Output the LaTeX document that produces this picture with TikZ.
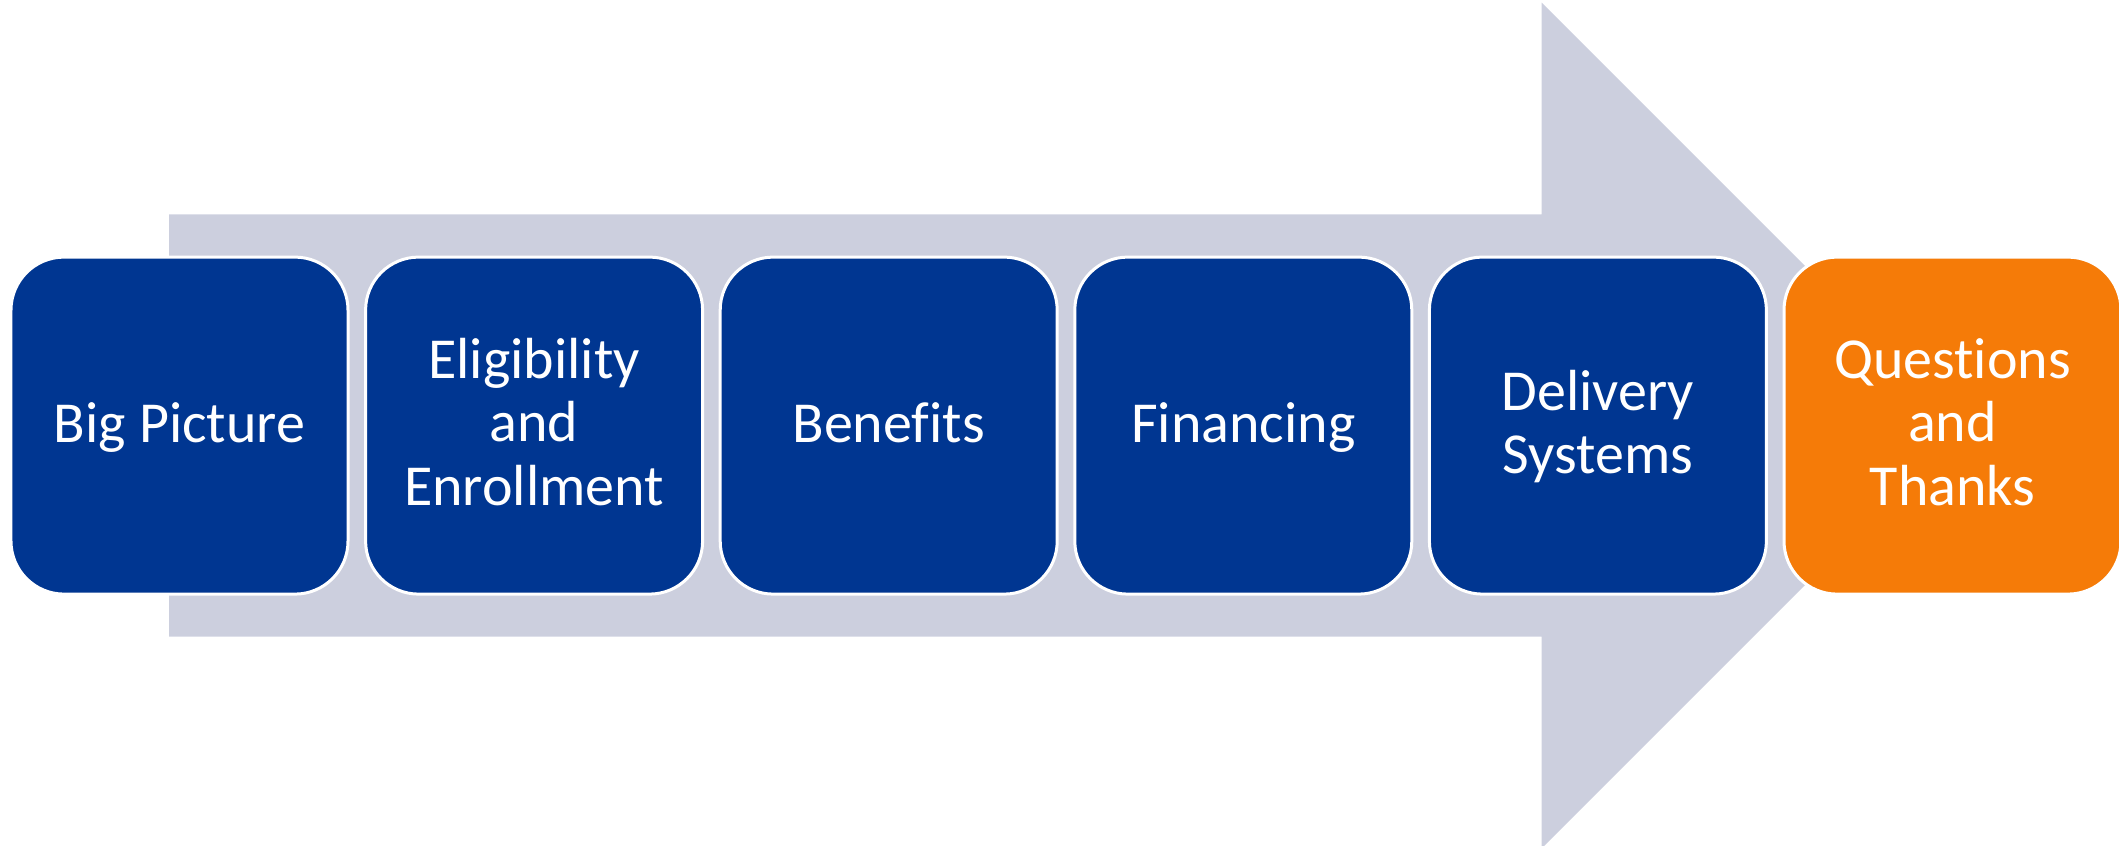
\documentclass[tikz,border=0pt]{standalone}
\usepackage{fontspec}
\setmainfont{Carlito}[Ligatures=NoCommon]
\definecolor{boxblue}{RGB}{0,54,145}
\definecolor{arrowgray}{RGB}{204,207,222}
\definecolor{boxorange}{RGB}{245,123,8}
\begin{document}
\begin{tikzpicture}[x=1bp,y=-1bp,
  stepbox/.style={rectangle, draw=white, line width=3bp, fill=boxblue,
    minimum width=337bp, minimum height=337bp, inner sep=0pt,
    rounded corners=53bp},
  lastbox/.style={stepbox, fill=boxorange},
  lbl/.style={text=white, align=center, inner sep=0pt,
    font=\fontsize{58bp}{63.3bp}\selectfont}]
\useasboundingbox (0,0) rectangle (2119,846);
\begin{scope}
\clip (0,0) rectangle (2119,846);
% big background arrow
\fill[arrowgray] (169,214.3) -- (1541.7,214.3) -- (1541.7,2.7) -- (1964.5,425.5)
  -- (1541.7,848.3) -- (1541.7,636.7) -- (169,636.7) -- cycle;
% boxes
\node[stepbox] (b1) at (179.5,425.6) {};
\node[stepbox] (b2) at (534.1,425.6) {};
\node[stepbox] (b3) at (888.7,425.6) {};
\node[stepbox] (b4) at (1243.3,425.6) {};
\node[stepbox] (b5) at (1597.9,425.6) {};
\node[lastbox] (b6) at (1952.5,425.6) {};
% labels (anchor at last baseline)
\node[lbl, anchor=base] (t1) at ([yshift=-17.2bp]b1.center) {Big Picture};
\node[lbl, anchor=base] (t2) at ([yshift=-79.6bp]b2.center) {Eligibility\\and\\Enrollment};
\node[lbl, anchor=base] (t3) at ([yshift=-17.2bp]b3.center) {Benefits};
\node[lbl, anchor=base] (t4) at ([yshift=-17.2bp]b4.center) {Financing};
\node[lbl, anchor=base] (t5) at ([yshift=-48.2bp]b5.center) {Delivery\\Systems};
\node[lbl, anchor=base] (t6) at ([yshift=-79.6bp]b6.center) {Questions\\and\\Thanks};
\end{scope}
\end{tikzpicture}
\end{document}
